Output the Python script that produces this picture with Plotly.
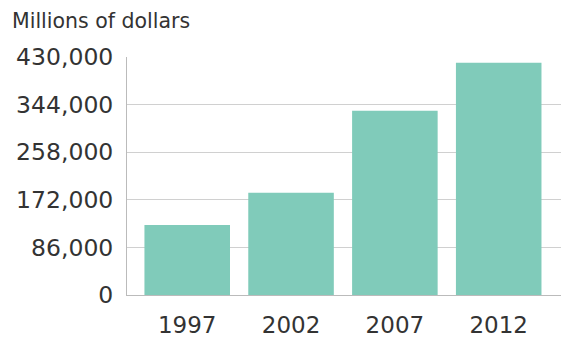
import plotly.graph_objects as go

years = ["1997", "2002", "2007", "2012"]
values = [126500, 184800, 333000, 419700]
y_ticks = [0, 86000, 172000, 258000, 344000, 430000]
y_title = "Millions of dollars"

fig = go.Figure(go.Bar(x=years, y=values, marker=dict(color="#80CBBA", line=dict(width=0)),
                       hoverinfo="skip"))

fig.update_layout(
    width=561, height=339,
    margin=dict(l=127, r=0, t=57, b=44),
    paper_bgcolor="white", plot_bgcolor="white",
    bargap=0.176,
    showlegend=False,
    font=dict(family="DejaVu Sans", color="#333333"),
    annotations=[dict(text=y_title, xref="paper", yref="paper", x=-0.27, y=1.0, yshift=36,
                      xanchor="left", yanchor="middle", showarrow=False,
                      font=dict(size=20.5, color="#333333", family="DejaVu Sans"))],
)
fig.update_xaxes(type="category", range=[-0.58, 3.6], showline=True, linecolor="#BBBBBB", linewidth=1,
                 showgrid=False, ticks="", tickfont=dict(size=23), ticklabelstandoff=9)
fig.update_yaxes(range=[0, 430000], tickvals=y_ticks, tickformat=",", showline=True,
                 linecolor="#BBBBBB", linewidth=1, showgrid=True, gridcolor="#D0D0D0",
                 zeroline=False, ticks="", tickfont=dict(size=23.5), ticklabelstandoff=8)

fig.write_html("out.html", config={"displayModeBar": False},
               post_script="document.body.style.margin='0';")
